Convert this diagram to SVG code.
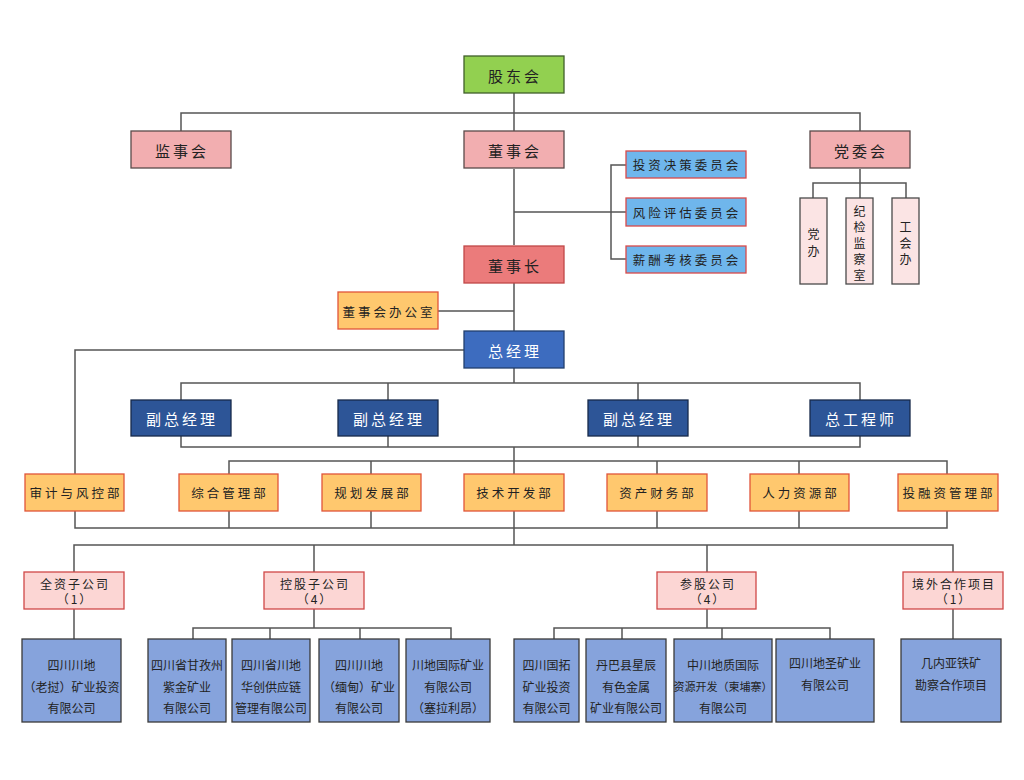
<svg xmlns="http://www.w3.org/2000/svg" width="1024" height="780" viewBox="0 0 1024 780">
<style>
text{font-family:"Noto Sans CJK SC","Noto Sans",sans-serif;text-anchor:middle;dominant-baseline:central;fill:#222}
.b{stroke-width:1.3}
.t1{font-size:15px;letter-spacing:3px}
.t2{font-size:12.5px;letter-spacing:3px}
.t3{font-size:12px;letter-spacing:2px}
.t4{font-size:12px}
.tv{font-size:12px}
.w{fill:#fff}
.green{fill:#92d050;stroke:#3f5f2a}
.pink{fill:#f2aeb0;stroke:#5a4a4a}
.red{fill:#eb7b7b;stroke:#c04848}
.cyan{fill:#6fb6ec;stroke:#d94a4a}
.lp{fill:#fbe4e4;stroke:#4a4a4a}
.org{fill:#ffc86e;stroke:#e0553a}
.gm{fill:#3d6cbf;stroke:#23406e}
.navy{fill:#2d5597;stroke:#172a4a}
.cat{fill:#fcd6d4;stroke:#d04848}
.sub{fill:#86a3dc;stroke:#3a3a3a}
#connectors path{fill:none;stroke:#555;stroke-width:1.5}
</style>
<rect width="1024" height="780" fill="#fff"/>
<g id="connectors">
<path d="M514 93V131M181 131V113H860V131"/>
<path d="M514 169V245M514 212H611M626 165H611V259H626M611 212H626"/>
<path d="M860 169V198M813 198V183H906V198"/>
<path d="M514 283V331M438 311H514"/>
<path d="M464 350H75V474"/>
<path d="M514 368V383M181 400V383H860V400M388 383V400M638 383V400"/>
<path d="M181 436V447H860V436M388 436V447M638 436V447M514 447V461"/>
<path d="M229 474V461H947V474M371 461V474M514 461V474M657 461V474M799 461V474"/>
<path d="M75 511V528H947V511M229 511V528M371 511V528M514 511V545M657 511V528M799 511V528"/>
<path d="M74 572V545H953V572M314 545V572M707 545V572"/>
<path d="M74 609V639"/>
<path d="M314 609V628M193 639V628H451V639M270 628V639M360 628V639"/>
<path d="M707 609V628M554 639V628H830V639M622 628V639M722 628V639"/>
<path d="M953 609V639"/>
</g>
<g id="n-gdh"><rect class="b green" x="464" y="56" width="100" height="37"/><text class="t1" x="515" y="75">股东会</text></g>
<g id="n-jsh"><rect class="b pink" x="131" y="131" width="100" height="37"/><text class="t1" x="182" y="150">监事会</text></g>
<g id="n-dsh"><rect class="b pink" x="464" y="131" width="100" height="37"/><text class="t1" x="515" y="150">董事会</text></g>
<g id="n-dwh"><rect class="b pink" x="810" y="131" width="100" height="37"/><text class="t1" x="861" y="150">党委会</text></g>
<g id="n-tz"><rect class="b cyan" x="626" y="151" width="120" height="27"/><text class="t2" x="687" y="164.5">投资决策委员会</text></g>
<g id="n-fx"><rect class="b cyan" x="626" y="198" width="120" height="28"/><text class="t2" x="687" y="212">风险评估委员会</text></g>
<g id="n-xc"><rect class="b cyan" x="626" y="246" width="120" height="27"/><text class="t2" x="687" y="259.5">薪酬考核委员会</text></g>
<g id="n-db"><rect class="b lp" x="800" y="198" width="27" height="86"/><text class="tv"><tspan x="813.5" y="233">党</tspan><tspan x="813.5" y="250">办</tspan></text></g>
<g id="n-jj"><rect class="b lp" x="846" y="198" width="27" height="86"/><text class="tv"><tspan x="859.5" y="210">纪</tspan><tspan x="859.5" y="226">检</tspan><tspan x="859.5" y="242">监</tspan><tspan x="859.5" y="258">察</tspan><tspan x="859.5" y="274">室</tspan></text></g>
<g id="n-gh"><rect class="b lp" x="892" y="198" width="27" height="86"/><text class="tv"><tspan x="905.5" y="226">工</tspan><tspan x="905.5" y="242">会</tspan><tspan x="905.5" y="258">办</tspan></text></g>
<g id="n-dsz"><rect class="b red" x="464" y="246" width="100" height="37"/><text class="t1" x="515" y="265">董事长</text></g>
<g id="n-dsb"><rect class="b org" x="338" y="292" width="100" height="37"/><text class="t2" x="389" y="311">董事会办公室</text></g>
<g id="n-zjl"><rect class="b gm" x="464" y="331" width="100" height="37"/><text class="t1 w" x="515" y="350">总经理</text></g>
<g id="n-f1"><rect class="b navy" x="131" y="400" width="100" height="36"/><text class="t1 w" x="182" y="418">副总经理</text></g>
<g id="n-f2"><rect class="b navy" x="338" y="400" width="100" height="36"/><text class="t1 w" x="389" y="418">副总经理</text></g>
<g id="n-f3"><rect class="b navy" x="588" y="400" width="100" height="36"/><text class="t1 w" x="639" y="418">副总经理</text></g>
<g id="n-zgc"><rect class="b navy" x="810" y="400" width="100" height="36"/><text class="t1 w" x="861" y="418">总工程师</text></g>
<g id="n-sj"><rect class="b org" x="25" y="474" width="99" height="37"/><text class="t2" x="76" y="492.5">审计与风控部</text></g>
<g id="n-zh"><rect class="b org" x="179" y="474" width="99" height="37"/><text class="t2" x="230" y="492.5">综合管理部</text></g>
<g id="n-gh2"><rect class="b org" x="322" y="474" width="99" height="37"/><text class="t2" x="373" y="492.5">规划发展部</text></g>
<g id="n-js"><rect class="b org" x="464" y="474" width="100" height="37"/><text class="t2" x="515" y="492.5">技术开发部</text></g>
<g id="n-zc"><rect class="b org" x="607" y="474" width="100" height="37"/><text class="t2" x="658" y="492.5">资产财务部</text></g>
<g id="n-rl"><rect class="b org" x="750" y="474" width="99" height="37"/><text class="t2" x="801" y="492.5">人力资源部</text></g>
<g id="n-trz"><rect class="b org" x="898" y="474" width="100" height="37"/><text class="t2" x="949" y="492.5">投融资管理部</text></g>
<g id="n-qz"><rect class="b cat" x="24" y="572" width="100" height="37"/><text class="t3"><tspan x="75" y="583">全资子公司</tspan><tspan x="75" y="598">（1）</tspan></text></g>
<g id="n-kg"><rect class="b cat" x="264" y="572" width="100" height="37"/><text class="t3"><tspan x="315" y="583">控股子公司</tspan><tspan x="315" y="598">（4）</tspan></text></g>
<g id="n-cg"><rect class="b cat" x="657" y="572" width="99" height="37"/><text class="t3"><tspan x="708" y="583">参股公司</tspan><tspan x="708" y="598">（4）</tspan></text></g>
<g id="n-jw"><rect class="b cat" x="903" y="572" width="100" height="37"/><text class="t3"><tspan x="954" y="583">境外合作项目</tspan><tspan x="954" y="598">（1）</tspan></text></g>
<g id="n-s1"><rect class="b sub" x="22" y="639" width="99" height="83"/><text class="t4"><tspan x="71.5" y="664">四川川地</tspan><tspan x="71.5" y="686">（老挝）矿业投资</tspan><tspan x="71.5" y="707">有限公司</tspan></text></g>
<g id="n-s2"><rect class="b sub" x="148" y="639" width="78" height="83"/><text class="t4"><tspan x="187" y="664">四川省甘孜州</tspan><tspan x="187" y="686">紫金矿业</tspan><tspan x="187" y="707">有限公司</tspan></text></g>
<g id="n-s3"><rect class="b sub" x="232" y="639" width="78" height="83"/><text class="t4"><tspan x="271" y="664">四川省川地</tspan><tspan x="271" y="686">华创供应链</tspan><tspan x="271" y="707">管理有限公司</tspan></text></g>
<g id="n-s4"><rect class="b sub" x="319" y="639" width="80" height="83"/><text class="t4"><tspan x="359" y="664">四川川地</tspan><tspan x="359" y="686">（缅甸）矿业</tspan><tspan x="359" y="707">有限公司</tspan></text></g>
<g id="n-s5"><rect class="b sub" x="406" y="639" width="84" height="83"/><text class="t4"><tspan x="448" y="664">川地国际矿业</tspan><tspan x="448" y="686">有限公司</tspan><tspan x="448" y="707">（塞拉利昂）</tspan></text></g>
<g id="n-s6"><rect class="b sub" x="514" y="639" width="65" height="83"/><text class="t4"><tspan x="546.5" y="664">四川国拓</tspan><tspan x="546.5" y="686">矿业投资</tspan><tspan x="546.5" y="707">有限公司</tspan></text></g>
<g id="n-s7"><rect class="b sub" x="586" y="639" width="80" height="83"/><text class="t4"><tspan x="626" y="664">丹巴县星辰</tspan><tspan x="626" y="686">有色金属</tspan><tspan x="626" y="707">矿业有限公司</tspan></text></g>
<g id="n-s8"><rect class="b sub" x="674" y="639" width="98" height="83"/><text class="t4"><tspan x="723" y="664">中川地质国际</tspan><tspan x="723" y="686" font-size="11">资源开发（柬埔寨）</tspan><tspan x="723" y="707">有限公司</tspan></text></g>
<g id="n-s9"><rect class="b sub" x="776" y="639" width="98" height="83"/><text class="t4"><tspan x="825" y="662">四川地圣矿业</tspan><tspan x="825" y="684">有限公司</tspan></text></g>
<g id="n-s10"><rect class="b sub" x="901" y="639" width="100" height="83"/><text class="t4"><tspan x="951" y="662">几内亚铁矿</tspan><tspan x="951" y="684">勘察合作项目</tspan></text></g>
</svg>
